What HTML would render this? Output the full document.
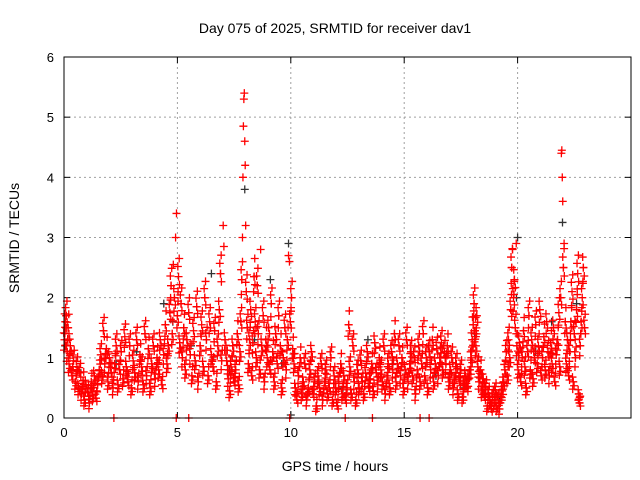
<!DOCTYPE html>
<html><head><meta charset="utf-8"><style>
html,body{margin:0;padding:0;background:#fff;}
svg{display:block;font-family:"Liberation Sans",sans-serif;}
</style></head><body>
<svg id="chart" width="640" height="480">
<text x="335" y="33" text-anchor="middle" font-size="14">Day 075 of 2025, SRMTID for receiver dav1</text>
<text x="335" y="471" text-anchor="middle" font-size="14">GPS time / hours</text>
<text transform="translate(19,238) rotate(-90)" text-anchor="middle" font-size="14">SRMTID / TECUs</text>
<g id="grid"></g>
<g id="axes"></g>
<g id="black"></g>
<g id="red"></g>
<rect x="64" y="57" width="567" height="361" fill="none" stroke="#000" stroke-width="1"/>
</svg>
<script>
const xTicks=[0,5,10,15,20];
const yTicks=[0,1,2,3,4,5,6];
const redPoints=[
[0.02,1.3],[0.06,1.6],[0.1,1.7],[0.14,1.1],[0.18,1.5],[0.22,0.9],[0.28,1.2],[0.35,0.7],[0.42,0.95],[0.5,0.6],[0.57,0.85],[0.64,0.5],[0.7,0.75],[0.77,0.4],[0.84,0.62],[0.9,0.3],[0.97,0.55],[1.05,0.42],[1.12,0.25],[1.2,0.6],[1.27,0.38],[1.34,0.7],[1.41,0.33],[1.48,0.55],[1.55,0.8],[1.62,1.05],[1.68,0.7],[1.74,1.45],[1.8,0.9],[1.87,1.15],[1.94,0.6],[2.0,1.0],[2.08,0.75],[2.16,0.5],[2.23,0.9],[2.3,1.2],[2.38,0.55],[2.45,0.8],[2.52,1.1],[2.6,0.65],[2.68,1.35],[2.75,0.85],[2.82,0.6],[2.9,1.2],[2.97,0.5],[3.05,0.95],[3.12,0.75],[3.2,1.3],[3.27,0.6],[3.35,1.05],[3.42,0.85],[3.5,0.55],[3.57,1.4],[3.64,0.7],[3.72,1.15],[3.8,0.5],[3.87,0.9],[3.94,1.2],[4.02,0.65],[4.1,1.0],[4.17,0.8],[4.24,1.3],[4.32,0.55],[4.4,1.05],[4.47,1.55],[4.54,0.9],[4.6,1.2],[4.67,1.75],[4.72,2.2],[4.77,1.4],[4.82,2.55],[4.87,2.0],[4.92,3.0],[4.96,3.4],[5.0,1.7],[5.05,2.35],[5.1,1.25],[5.16,1.9],[5.22,1.0],[5.28,1.5],[5.35,0.8],[5.42,1.3],[5.5,1.75],[5.57,1.05],[5.64,0.7],[5.71,1.45],[5.78,0.95],[5.85,1.85],[5.92,0.6],[6.0,1.2],[6.07,1.55],[6.14,0.85],[6.21,2.0],[6.28,1.3],[6.35,0.7],[6.42,1.6],[6.5,1.05],[6.57,0.85],[6.64,1.45],[6.71,0.6],[6.78,1.2],[6.85,1.8],[6.9,2.4],[6.95,0.95],[7.02,3.2],[7.05,2.85],[7.1,1.3],[7.17,0.95],[7.24,0.65],[7.3,0.45],[7.37,0.85],[7.44,1.2],[7.5,0.6],[7.57,0.8],[7.64,1.4],[7.7,0.55],[7.76,1.1],[7.8,1.6],[7.84,2.3],[7.87,3.0],[7.89,4.0],[7.91,4.85],[7.93,5.3],[7.95,5.4],[7.97,4.6],[7.99,4.2],[8.01,3.2],[8.04,2.1],[8.08,1.5],[8.13,0.9],[8.18,1.3],[8.23,1.8],[8.28,0.7],[8.33,1.25],[8.38,2.35],[8.43,1.6],[8.48,1.0],[8.52,2.2],[8.57,1.4],[8.62,0.8],[8.67,2.8],[8.72,1.2],[8.78,1.7],[8.84,0.6],[8.9,1.3],[8.96,1.0],[9.02,1.5],[9.08,0.8],[9.14,1.9],[9.2,1.1],[9.27,0.6],[9.33,1.4],[9.4,0.9],[9.47,1.7],[9.54,1.2],[9.6,0.5],[9.67,1.0],[9.74,1.5],[9.8,0.8],[9.85,1.3],[9.9,2.7],[9.94,2.6],[9.98,1.6],[10.03,2.0],[10.08,1.15],[10.14,0.9],[10.2,0.5],[10.27,0.3],[10.34,0.7],[10.41,1.0],[10.48,0.4],[10.55,0.6],[10.62,0.9],[10.7,0.3],[10.77,0.5],[10.84,0.8],[10.91,1.1],[10.98,0.4],[11.05,0.6],[11.12,0.2],[11.2,0.7],[11.27,0.5],[11.34,0.9],[11.41,0.3],[11.48,0.6],[11.55,0.8],[11.62,0.4],[11.7,0.5],[11.77,1.0],[11.84,0.3],[11.91,0.7],[11.98,0.5],[12.05,0.2],[12.12,0.6],[12.2,0.9],[12.27,0.4],[12.34,0.7],[12.41,0.3],[12.48,0.5],[12.55,1.55],[12.6,0.85],[12.67,0.4],[12.74,1.2],[12.8,0.6],[12.87,0.3],[12.94,0.8],[13.01,0.5],[13.08,0.95],[13.15,0.6],[13.22,0.4],[13.3,0.75],[13.37,1.1],[13.44,0.5],[13.5,0.65],[13.57,0.9],[13.64,0.45],[13.7,1.25],[13.77,0.75],[13.84,0.55],[13.9,1.0],[13.97,0.8],[14.04,0.6],[14.1,1.2],[14.17,0.4],[14.24,0.7],[14.3,0.9],[14.37,0.5],[14.44,1.1],[14.5,0.8],[14.57,1.4],[14.64,0.6],[14.7,0.9],[14.77,1.2],[14.84,0.7],[14.9,1.0],[14.97,0.5],[15.04,0.8],[15.1,1.3],[15.17,0.6],[15.24,0.9],[15.3,1.1],[15.37,0.7],[15.44,1.0],[15.5,0.4],[15.57,0.8],[15.64,1.2],[15.7,0.6],[15.77,0.9],[15.84,1.4],[15.9,0.7],[15.97,1.0],[16.04,0.5],[16.1,1.1],[16.17,0.8],[16.24,1.3],[16.3,0.6],[16.37,0.9],[16.44,1.15],[16.5,0.7],[16.57,1.0],[16.64,1.25],[16.7,0.8],[16.77,1.1],[16.84,0.9],[16.9,1.2],[16.97,0.6],[17.04,0.8],[17.1,1.0],[17.17,0.5],[17.24,0.7],[17.3,0.9],[17.37,0.4],[17.44,0.6],[17.5,0.8],[17.57,0.35],[17.64,0.55],[17.7,0.7],[17.77,0.5],[17.84,0.65],[17.9,0.8],[17.96,1.0],[18.0,1.3],[18.04,1.55],[18.08,1.9],[18.12,1.45],[18.16,1.2],[18.2,1.7],[18.25,0.85],[18.3,0.6],[18.36,0.8],[18.42,0.45],[18.48,0.65],[18.54,0.35],[18.6,0.5],[18.66,0.2],[18.72,0.4],[18.78,0.3],[18.84,0.15],[18.9,0.35],[18.96,0.25],[19.02,0.45],[19.08,0.2],[19.14,0.3],[19.2,0.15],[19.26,0.35],[19.32,0.45],[19.38,0.6],[19.44,0.8],[19.5,1.1],[19.55,0.7],[19.6,1.3],[19.65,1.0],[19.7,1.8],[19.74,2.5],[19.78,2.8],[19.82,2.0],[19.86,2.3],[19.9,1.5],[19.94,2.9],[19.97,1.2],[20.02,0.8],[20.08,1.25],[20.14,0.6],[20.2,1.0],[20.26,1.45],[20.32,0.85],[20.38,0.5],[20.44,1.1],[20.5,1.7],[20.56,0.8],[20.62,1.3],[20.68,0.65],[20.74,1.0],[20.8,1.55],[20.86,0.9],[20.92,1.2],[20.98,1.8],[21.04,0.7],[21.1,1.0],[21.16,1.35],[21.22,0.8],[21.28,1.6],[21.34,1.1],[21.4,0.7],[21.46,1.25],[21.52,0.9],[21.58,1.5],[21.64,0.6],[21.7,1.05],[21.76,1.3],[21.82,1.75],[21.86,0.85],[21.9,2.0],[21.93,4.4],[21.95,4.45],[21.97,4.0],[21.99,3.6],[22.02,2.5],[22.05,2.9],[22.1,1.6],[22.15,0.9],[22.2,1.3],[22.25,0.7],[22.3,1.1],[22.35,1.6],[22.4,2.1],[22.45,0.6],[22.5,1.4],[22.55,1.0],[22.6,1.8],[22.65,2.4],[22.7,0.4],[22.73,0.25],[22.76,1.2],[22.8,1.6],[22.85,2.0],[22.9,2.5],[22.95,1.5]
];
const blackT=[0.05,0.6,1.2,2.3,3.2,4.4,4.8,5.6,6.5,7.3,7.97,8.4,9.1,9.6,9.9,10.0,11.2,12.3,13.4,14.5,15.3,16.4,17.6,18.1,19.2,19.95,20.0,20.8,21.5,21.98,22.6];
const blackV=[1.2,0.8,0.5,0.9,1.1,1.9,1.6,1.2,2.4,0.8,3.8,1.3,2.3,0.9,2.9,0.05,0.6,0.5,1.3,0.9,1.1,0.7,0.5,1.4,0.3,2.0,3.0,1.1,1.6,3.25,1.9];
const zeroT=[2.2,4.95,5.5,9.95,12.4,13.6,15.7,16.1];
const X0=64,X1=631,Y0=418,Y1=57,XMAX=25,YMAX=6;
const sx=t=>X0+t/XMAX*(X1-X0);
const sy=v=>Y0-v/YMAX*(Y0-Y1);
const NS="http://www.w3.org/2000/svg";
function mk(tag,attrs,parent){const e=document.createElementNS(NS,tag);for(const k in attrs)e.setAttribute(k,attrs[k]);parent.appendChild(e);return e;}
const grid=document.getElementById('grid'),axes=document.getElementById('axes');
xTicks.forEach(t=>{
  const x=sx(t);
  if(t>0){const g=mk('line',{x1:x,y1:Y1,x2:x,y2:Y0,stroke:'#a0a0a0','stroke-dasharray':'2,3'},grid);
  
  }
  mk('line',{x1:x,y1:Y0,x2:x,y2:Y0-6,stroke:'#000'},axes);
  mk('line',{x1:x,y1:Y1,x2:x,y2:Y1+6,stroke:'#000'},axes);
  const l=mk('text',{x:x,y:Y0+19,'text-anchor':'middle','font-size':'13'},axes);
  l.textContent=t;
  
  
});
yTicks.forEach(v=>{
  const y=sy(v);
  if(v>0&&v<6){const g=mk('line',{x1:X0,y1:y,x2:X1,y2:y,stroke:'#a0a0a0','stroke-dasharray':'2,3'},grid);
  
  }
  mk('line',{x1:X0,y1:y,x2:X0+6,y2:y,stroke:'#000'},axes);
  mk('line',{x1:X1,y1:y,x2:X1-6,y2:y,stroke:'#000'},axes);
  const l=mk('text',{x:X0-10,y:y+5,'text-anchor':'end','font-size':'13'},axes);
  l.textContent=v;
  
  
});
function plus(g,t,v,color,name){
  const x=sx(t),y=sy(v);
  const p=mk('path',{d:`M${x-4},${y}H${x+4}M${x},${y-4}V${y+4}`,stroke:color,'stroke-width':'1.3',fill:'none'},g);
  
  
}
const bg=document.getElementById('black'),rg=document.getElementById('red');
blackT.forEach((t,i)=>plus(bg,t,blackV[i],'#333','black-point'));
const jit=[[0,0],[0.03,0.18],[-0.02,-0.15],[0.04,-0.08],[-0.03,0.1]];
redPoints.forEach((p,i)=>{
  const big=p[1]>2.5;
  const n=big?1:5;
  for(let k=0;k<n;k++){
    const j=jit[(i+k*2)%5];
    const s=k===0?0:1;
    plus(rg,p[0]+j[0]*s,Math.max(0.05,p[1]+j[1]*s*(0.5+p[1]*0.5)),'#ff0000','red-point');
  }
});
zeroT.forEach(t=>plus(rg,t,0,'#ff0000','red-zero-point'));
</script>
</body></html>
